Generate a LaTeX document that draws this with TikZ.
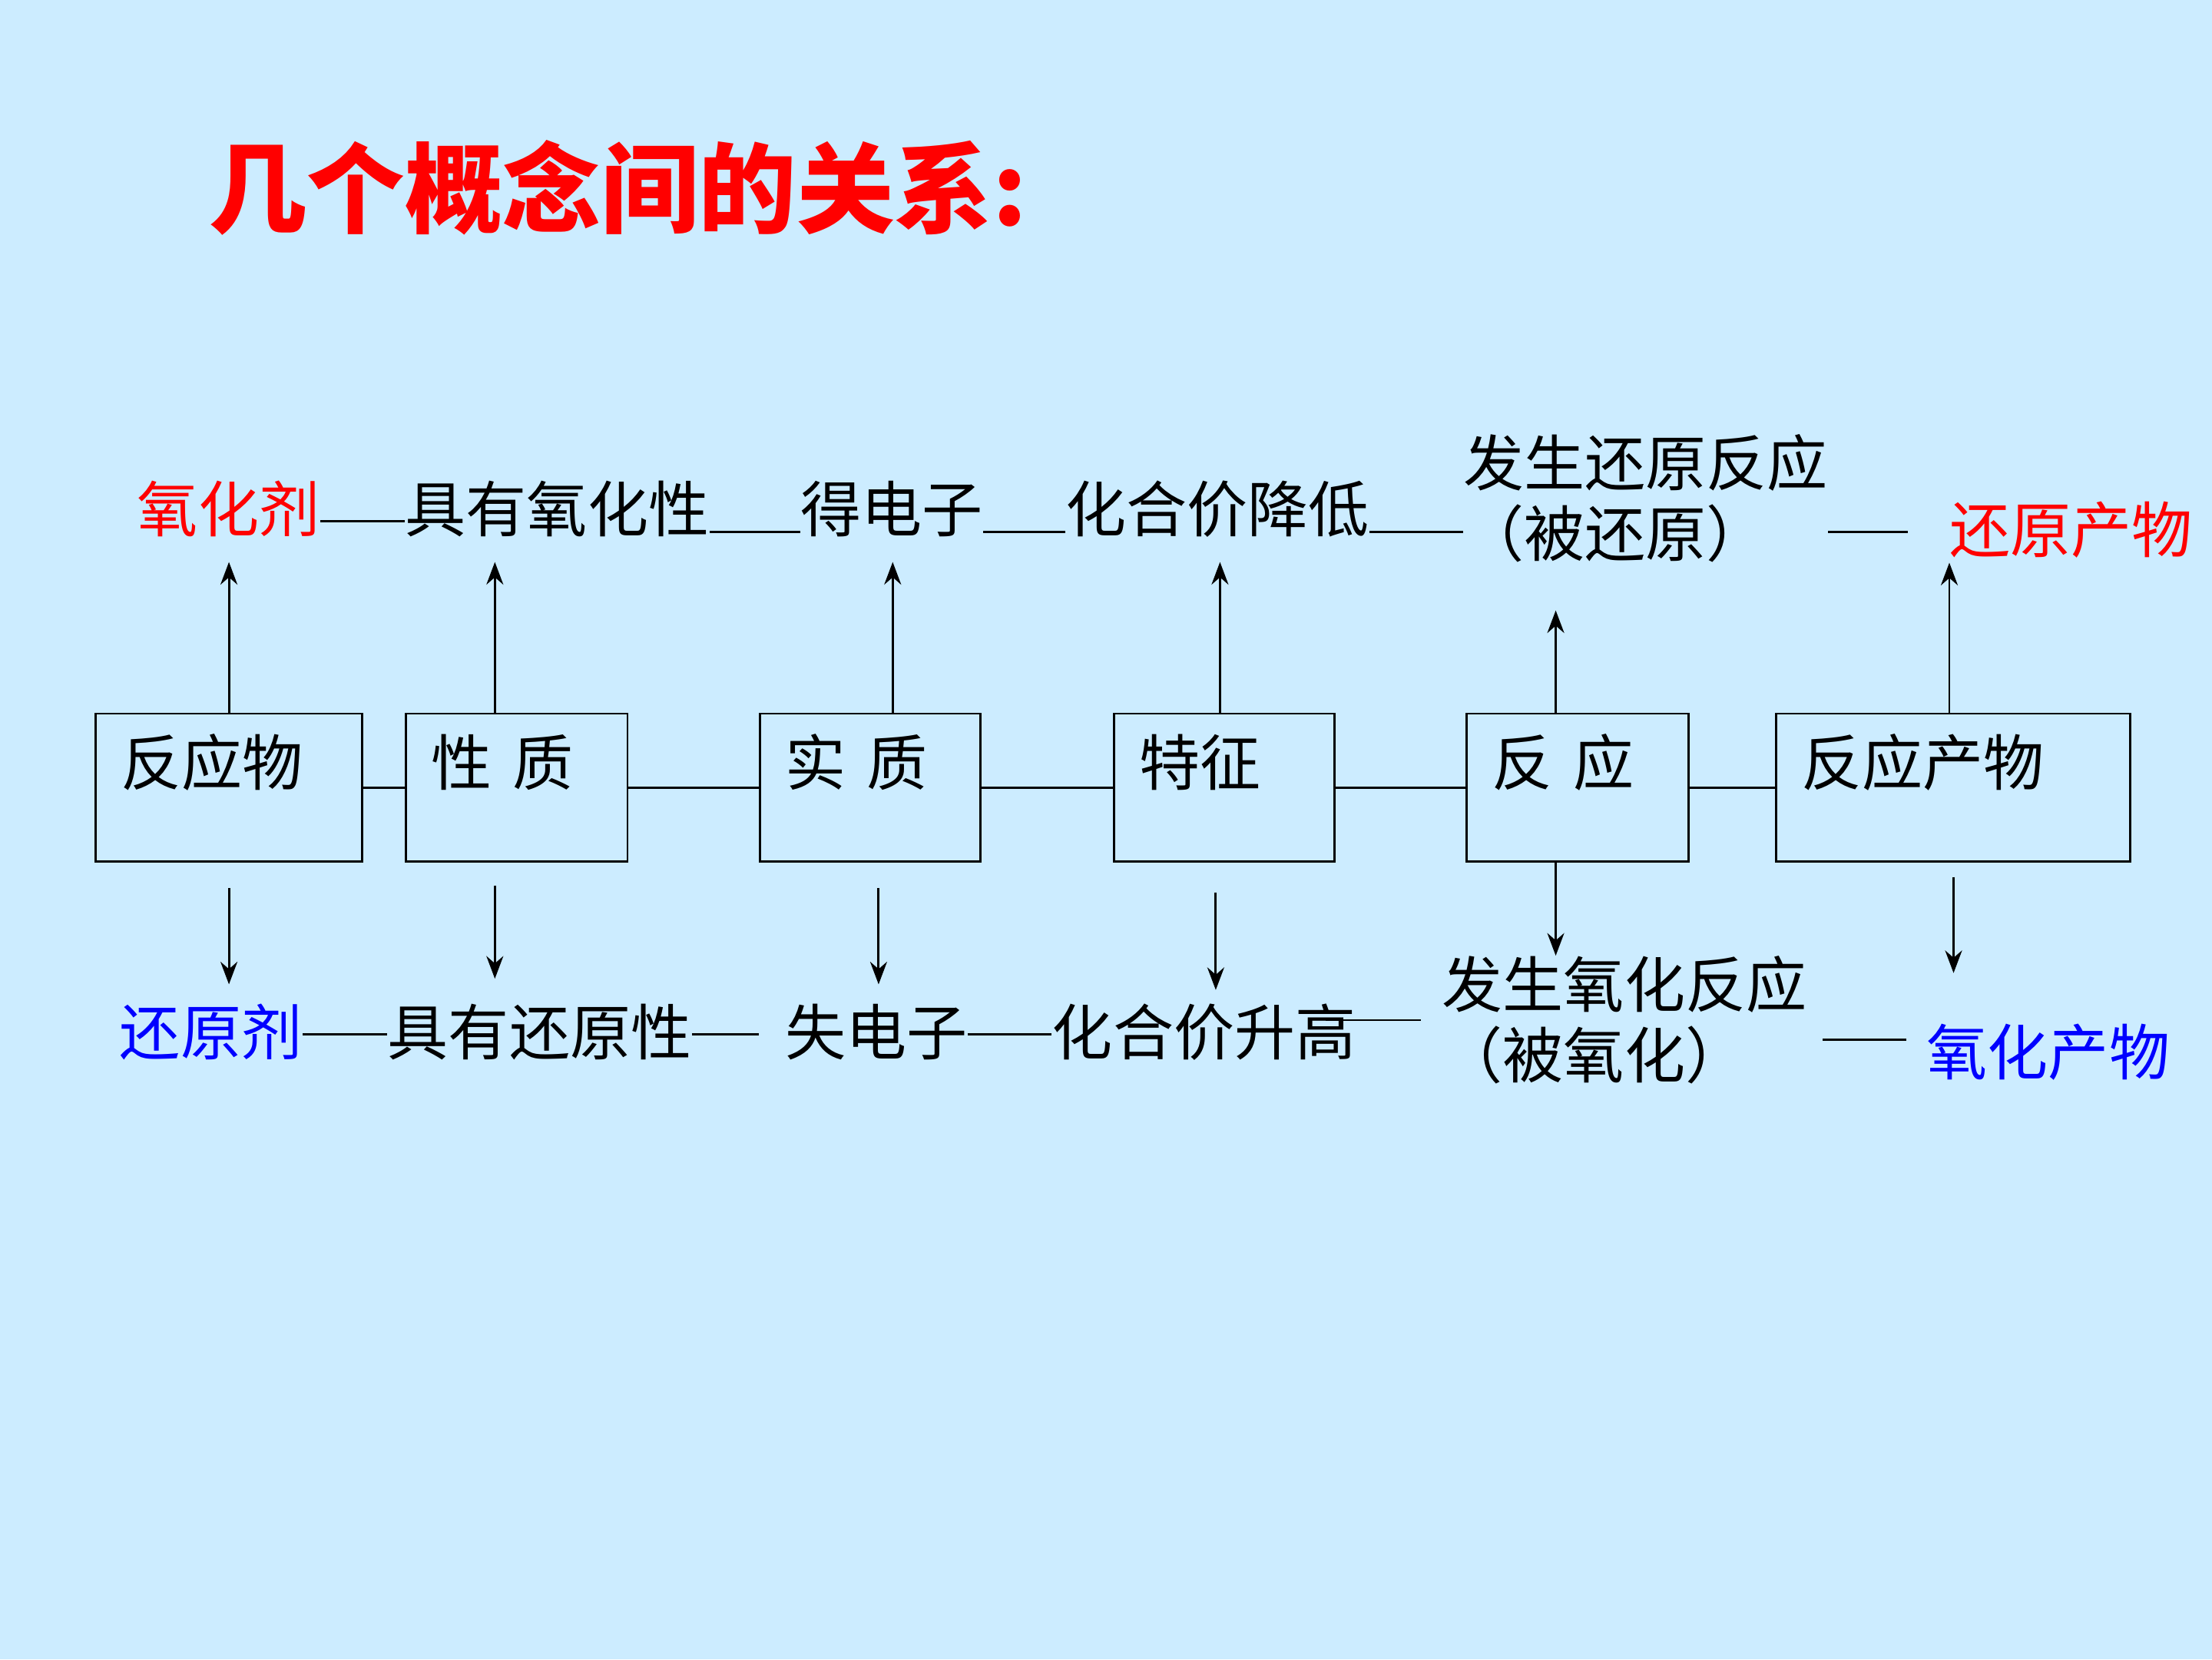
\documentclass[tikz,border=0pt]{standalone}
\usepackage{fontspec}
\setmainfont{Noto Sans CJK SC}
\usetikzlibrary{arrows.meta,calc}

\definecolor{slidebg}{RGB}{204,236,255}
\definecolor{oxred}{RGB}{255,0,0}
\definecolor{redblue}{RGB}{0,0,255}

\begin{document}
\begin{tikzpicture}[
    concept/.style={rectangle, draw=black, line width=0.9pt, anchor=north west,
                inner xsep=0.36cm, inner ysep=0.2cm, text height=0.82cm, text depth=0.88cm,
                align=left, font=\fontsize{24.5}{30}\selectfont},
    term/.style={inner sep=0pt, text height=0.73cm, text depth=0.13cm,
                font=\fontsize{24.5}{30}\selectfont},
    block/.style={inner sep=0pt, anchor=west, align=left,
                font=\fontsize{24.5}{28.45}\selectfont},
    arrow/.style={-{Stealth[length=3.2mm, width=2.4mm]}, line width=0.9pt},
    link/.style={line width=0.9pt}
]
\fill[slidebg] (0,0) rectangle (31.36,23.52);
\useasboundingbox (0,0) rectangle (31.36,23.52);

% Title
\node[anchor=west, inner sep=0pt, text=oxred, font=\fontsize{39.5}{46}\selectfont\bfseries]
    (title) at (2.96,20.86) {几个概念间的关系:};

% Boxes
\node[concept, text width=3.06cm] (react) at (1.34,13.42) {反应物};
\node[concept, text width=2.42cm] (prop) at (5.74,13.42) {性 质};
\node[concept, text width=2.40cm] (sub) at (10.76,13.42) {实 质};
\node[concept, text width=2.40cm] (feat) at (15.78,13.42) {特征};
\node[concept, text width=2.42cm] (rxn) at (20.78,13.42) {反 应};
\node[concept, text width=4.30cm] (prod) at (25.16,13.42) {反应产物};

% Upper row
\node[term, text=oxred] (oxid) at (3.24,16.28) {氧化剂};
\node[term] (oxprop) at (7.90,16.28) {具有氧化性};
\node[term] (gaine) at (12.64,16.28) {得电子};
\node[term] (valdown) at (17.26,16.28) {化合价降低};
\node[block] (redrxn) at (20.74,16.46) {发生还原反应\\（被还原）};
\node[term, text=oxred] (redprod) at (29.36,15.98) {还原产物};

% Lower row
\node[term, text=redblue] (redu) at (2.99,8.86) {还原剂};
\node[term] (redprop) at (7.65,8.86) {具有还原性};
\node[term] (losee) at (12.42,8.86) {失电子};
\node[term] (valup) at (17.07,8.86) {化合价升高};
\node[block] (oxrxn) at (20.44,9.06) {发生氧化反应\\（被氧化）};
\node[term, text=redblue] (oxprod) at (29.04,8.58) {氧化产物};

% Box links
\draw[link] (react.east) -- (prop.west);
\draw[link] (prop.east) -- (sub.west);
\draw[link] (sub.east) -- (feat.west);
\draw[link] (feat.east) -- (rxn.west);
\draw[link] (rxn.east) -- (prod.west);

% Upper links
\draw[link] ([yshift=0.15cm]oxid.base east) -- ([yshift=0.15cm]oxprop.base west);
\draw[link] (oxprop.base east) -- (gaine.base west);
\draw[link] (gaine.base east) -- (valdown.base west);
\draw[link] (valdown.base east) -- (valdown.base east -| redrxn.west);
\draw[link, shorten >=0.58cm] (redrxn.east |- redprod.west) -- (redprod.west);

% Lower links
\draw[link] (redu.east) -- (redprop.west);
\draw[link, shorten >=0.36cm] (redprop.east) -- (losee.west);
\draw[link] (losee.east) -- (valup.west);
\draw[link, shorten <=-0.44cm, shorten >=0.3cm] (oxrxn.west -| valup.east) -- (oxrxn.west);
\draw[link, shorten <=0.22cm, shorten >=0.28cm] ([yshift=0.2cm]oxrxn.east |- oxprod.west) -- ([yshift=0.2cm]oxprod.west);

% Arrows up
\draw[arrow, shorten >=0.29cm] (react.north) -- (react.north |- oxid.south);
\draw[arrow, shorten >=0.29cm] ([xshift=-0.31cm]prop.north) -- ([xshift=-0.31cm]prop.north |- oxprop.south);
\draw[arrow, shorten >=0.29cm] ([xshift=0.32cm]sub.north) -- ([xshift=0.32cm]sub.north |- gaine.south);
\draw[arrow, shorten >=0.29cm] ([xshift=-0.06cm]feat.north) -- ([xshift=-0.06cm]feat.north |- valdown.south);
\draw[arrow, shorten >=0.68cm] ([xshift=-0.31cm]rxn.north) -- ([xshift=-0.31cm]rxn.north |- redrxn.south);
\draw[arrow] ([xshift=-0.05cm]prod.north) -- ([xshift=-0.05cm]prod.north |- redprod.south);

% Arrows down
\draw[arrow, shorten <=0.36cm, shorten >=0.27cm] (react.south) -- (react.south |- redu.north);
\draw[arrow, shorten <=0.32cm, shorten >=0.35cm] ([xshift=-0.31cm]prop.south) -- ([xshift=-0.31cm]prop.south |- redprop.north);
\draw[arrow, shorten <=0.36cm, shorten >=0.27cm] ([xshift=0.12cm]sub.south) -- ([xshift=0.12cm]sub.south |- losee.north);
\draw[arrow, shorten <=0.42cm, shorten >=0.19cm] ([xshift=-0.12cm]feat.south) -- ([xshift=-0.12cm]feat.south |- valup.north);
\draw[arrow] ([xshift=-0.31cm]rxn.south) -- ([xshift=-0.31cm]rxn.south |- oxrxn.north);
\draw[arrow, shorten <=0.2cm, shorten >=0.71cm] ([xshift=0.01cm]prod.south) -- ([xshift=0.01cm]prod.south |- oxprod.north);

\end{tikzpicture}
\end{document}
